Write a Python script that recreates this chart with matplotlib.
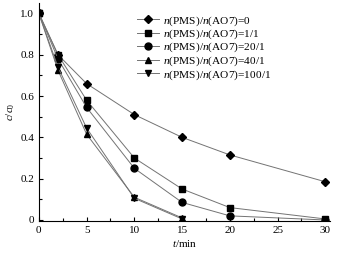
import matplotlib.pyplot as plt
from matplotlib.ticker import MultipleLocator

plt.rcParams['font.family'] = ['Liberation Serif', 'DejaVu Serif']
plt.rcParams['mathtext.fontset'] = 'custom'
plt.rcParams['mathtext.rm'] = 'Liberation Serif'
plt.rcParams['mathtext.it'] = 'Liberation Serif:italic'

# reaction time (min) and c/c0 for each PMS:AO7 ratio
t = [0, 2, 5, 10, 15, 20, 30]
t_short = [0, 2, 5, 10, 15]
r0 = [1.0, 0.80, 0.66, 0.51, 0.40, 0.315, 0.185]
r1 = [1.0, 0.80, 0.58, 0.30, 0.15, 0.06, 0.005]
r20 = [1.0, 0.78, 0.545, 0.25, 0.085, 0.02, 0.0]
r40 = [1.0, 0.725, 0.415, 0.11, 0.01]
r100 = [1.0, 0.74, 0.445, 0.105, 0.005]
labels = ['0', '1/1', '20/1', '40/1', '100/1']

fig = plt.figure(figsize=(3.41, 2.57), dpi=100)
ax = fig.add_axes([0.114, 0.14, 0.854, 0.848])

series = [(t, r0, 'D'), (t, r1, 's'), (t, r20, 'o'), (t_short, r40, '^'), (t_short, r100, 'v')]
for (x, y, m), lab in zip(series, labels):
    ms = 4.5 if m == 'D' else 5
    ax.plot(x, y, color='0.45', lw=0.7, marker=m, ms=ms, mfc='black', mec='black',
            label=r'$n$(PMS)/$n$(AO7)=' + lab)

ax.set_xlim(0, 30.5)
ax.set_ylim(-0.005, 1.05)
ax.xaxis.set_major_locator(MultipleLocator(5))
ax.xaxis.set_minor_locator(MultipleLocator(2.5))
ax.yaxis.set_minor_locator(MultipleLocator(0.1))
ax.set_yticks([0, 0.2, 0.4, 0.6, 0.8, 1.0])
ax.set_yticklabels(['0', '0.2', '0.4', '0.6', '0.8', '1.0'])
ax.tick_params(which='both', direction='in', labelsize=8, width=0.8)
ax.tick_params(which='major', length=3)
ax.tick_params(which='minor', length=2)
for s in ['top', 'right']:
    ax.spines[s].set_visible(False)

ax.set_xlabel(r'$t$/min', fontsize=8, labelpad=2)
ax.set_ylabel(r'$c$/$c_0$', fontsize=8, labelpad=2)

ax.legend(loc='upper left', bbox_to_anchor=(137 / 341, 1 - 14 / 257),
          bbox_transform=fig.transFigure, frameon=False, fontsize=8.2,
          handlelength=1.9, handletextpad=0.35, labelspacing=0.0,
          borderaxespad=0, borderpad=0)

fig.savefig('out.png', dpi=100)
